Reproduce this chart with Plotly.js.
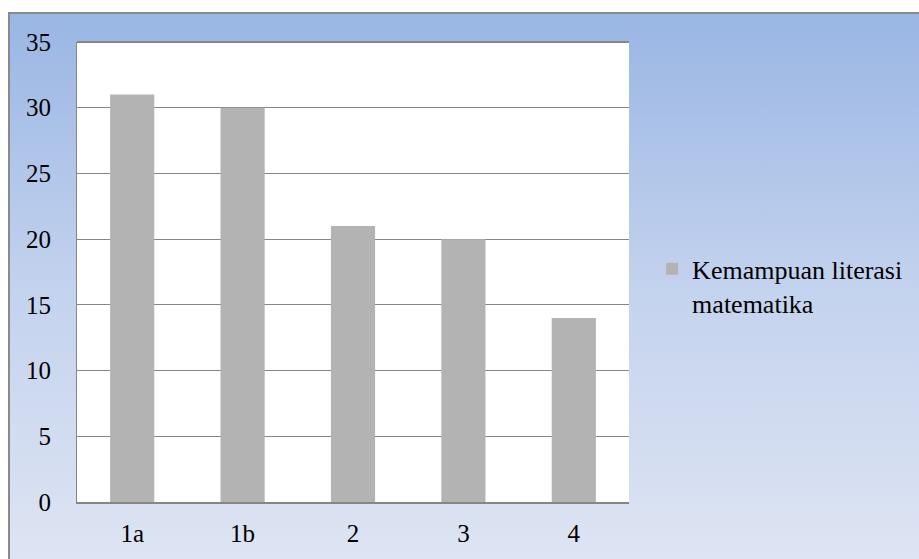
<!DOCTYPE html>
<html>
<head>
<meta charset="utf-8">
<script src="https://cdn.plot.ly/plotly-3.0.1.min.js"></script>
<style>
html,body{margin:0;padding:0;background:#fff;width:919px;height:559px;overflow:hidden;}
#frame{position:absolute;left:8px;top:12px;width:920px;height:560px;border-left:2px solid #8a8a8a;border-top:2px solid #8a8a8a;
background:linear-gradient(to bottom,#9ab6e4 0%,#c4d3ee 50%,#dfe5f3 100%);}
#chart{position:absolute;left:0;top:0;width:919px;height:559px;}
</style>
</head>
<body>
<div id="frame"></div>
<div id="chart"></div>
<script>
const categories = ['1a', '1b', '2', '3', '4'];
const values = [31, 30, 21, 20, 14];
const seriesName = 'Kemampuan literasi<br>matematika';

const FONT = 'Liberation Serif, Times New Roman, serif';
const FS = 25;

const trace = {
  type: 'bar',
  x: categories,
  y: values,
  name: seriesName,
  marker: {color: '#b3b3b3'},
  width: 0.4,
  showlegend: true
};

const layout = {
  width: 919, height: 559,
  margin: {l: 77, r: 289, t: 42, b: 57, pad: 0},
  paper_bgcolor: 'rgba(0,0,0,0)',
  plot_bgcolor: '#ffffff',
  font: {family: FONT, size: FS, color: '#000'},
  showlegend: true,
  legend: {x: 1.04, xanchor: 'left', y: 0.47, yanchor: 'middle', bgcolor: 'rgba(0,0,0,0)',
           valign: 'top',
           font: {family: FONT, size: 26, color: '#000'}, itemwidth: 30, tracegroupgap: 0},
  xaxis: {type: 'category', showgrid: false, showline: true, linecolor: '#868686', linewidth: 2,
          ticks: '', ticklabelstandoff: 8, zeroline: false,
          tickfont: {family: FONT, size: FS, color: '#000'}},
  yaxis: {range: [0, 35], dtick: 5, showgrid: true, gridcolor: '#868686', gridwidth: 1,
          showline: true, linecolor: '#868686', linewidth: 1, ticks: '', ticklabelstandoff: 20,
          zeroline: false, tickfont: {family: FONT, size: FS, color: '#000'}},
  shapes: [{type: 'line', xref: 'paper', yref: 'paper', x0: 0, x1: 1, y0: 1, y1: 1,
            line: {color: '#868686', width: 2}}]
};

Plotly.newPlot('chart', [trace], layout, {staticPlot: true, displayModeBar: false});
</script>
</body>
</html>
